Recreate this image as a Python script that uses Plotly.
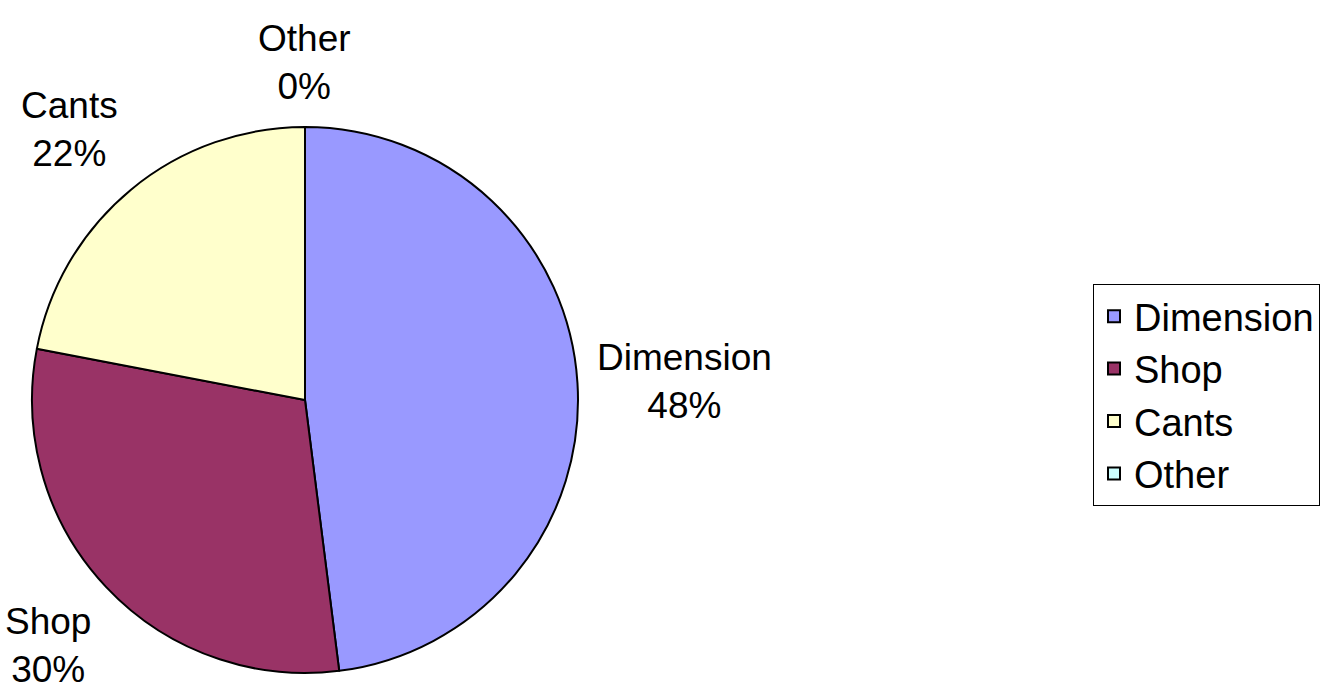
import math
import plotly.graph_objects as go

# Share of output by product category
categories = ["Dimension", "Shop", "Cants", "Other"]
values = [48, 30, 22, 0]
colors = ["#9999FF", "#993366", "#FFFFCC", "#CCFFFF"]

W, H = 1334, 691
FONT = dict(family="Liberation Sans, Arial, sans-serif", size=37, color="#000000")
LEGEND_FONT = dict(family="Liberation Sans, Arial, sans-serif", size=38, color="#000000")

# Pie geometry in pixels
cx, cy, R = 305, 400, 273
label_gap = 18

fig = go.Figure(
    go.Pie(
        labels=categories,
        values=values,
        sort=False,
        direction="clockwise",
        rotation=0,
        textinfo="none",
        hoverinfo="label+percent",
        marker=dict(colors=colors, line=dict(color="#000000", width=2)),
        domain=dict(
            x=[(cx - R) / W, (cx + R) / W],
            y=[1 - (cy + R) / H, 1 - (cy - R) / H],
        ),
    )
)

# Category labels placed just outside each slice, at its middle angle
total = sum(values)
start = 0.0
for name, v in zip(categories, values):
    frac = v / total
    mid = (start + frac / 2) * 2 * math.pi
    start += frac
    s, c = math.sin(mid), math.cos(mid)
    px = cx + (R + label_gap) * s
    py = cy - (R + label_gap) * c
    xa = "left" if s > 0.3 else ("right" if s < -0.3 else "center")
    ya = "bottom" if c > 0.3 else ("top" if c < -0.3 else "middle")
    fig.add_annotation(
        x=px / W,
        y=1 - py / H,
        xref="paper",
        yref="paper",
        text=f"{name}<br>{round(frac * 100):.0f}%",
        showarrow=False,
        xanchor=xa,
        yanchor=ya,
        align="center",
        font=FONT,
    )

fig.update_layout(
    width=W,
    height=H,
    margin=dict(l=0, r=0, t=0, b=0),
    paper_bgcolor="#FFFFFF",
    plot_bgcolor="#FFFFFF",
    font=FONT,
    showlegend=True,
    legend=dict(
        x=1093 / W,
        y=1 - 395 / H,
        xanchor="left",
        yanchor="middle",
        bordercolor="#000000",
        borderwidth=1,
        bgcolor="#FFFFFF",
        font=LEGEND_FONT,
        itemclick=False,
    ),
)

fig.write_html("out.html")
